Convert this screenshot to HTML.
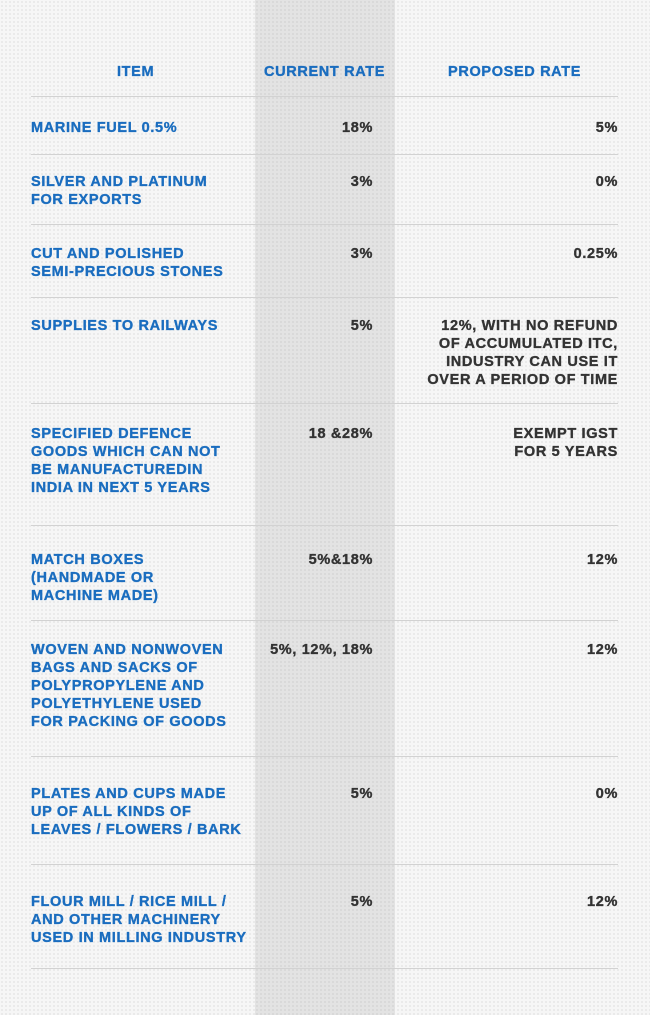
<!DOCTYPE html>
<html><head><meta charset="utf-8"><style>
html,body{margin:0;padding:0}
body{width:650px;height:1015px;position:relative;overflow:hidden;background-color:#f6f6f6;
background-image:radial-gradient(circle,#e6e6e6 0.8px,transparent 1px);background-size:4px 4px;
font-family:"Liberation Sans",Arial,sans-serif;font-weight:bold;font-size:14.5px;letter-spacing:0.65px;line-height:18px;-webkit-text-stroke:0.35px currentColor}
.col{position:absolute;left:255px;top:0;width:140px;height:1015px;background-color:#e3e3e3;
background-image:radial-gradient(circle,#d6d6d6 0.8px,transparent 1px);background-size:4px 4px}
.ln{position:absolute;left:31px;width:587px;height:1px;background:#d2d2d2}
.t{position:absolute;white-space:nowrap}
.b{color:#1a6dbf;left:31px}
.c{color:#333;right:277px;text-align:right}
.p{color:#333;right:32px;text-align:right}
.h{color:#1a6dbf;position:absolute;top:63px}
</style></head><body>
<div class="col"></div>
<div class="h" style="left:117px">ITEM</div>
<div class="h" style="left:264px">CURRENT RATE</div>
<div class="h" style="left:448px">PROPOSED RATE</div>
<div class="ln" style="top:96px"></div>
<div class="ln" style="top:154px"></div>
<div class="ln" style="top:224px"></div>
<div class="ln" style="top:297px"></div>
<div class="ln" style="top:403px"></div>
<div class="ln" style="top:525px"></div>
<div class="ln" style="top:620px"></div>
<div class="ln" style="top:756px"></div>
<div class="ln" style="top:864px"></div>
<div class="ln" style="top:968px"></div>

<div class="t b" style="top:119px">MARINE FUEL 0.5%</div>
<div class="t c" style="top:119px">18%</div>
<div class="t p" style="top:119px">5%</div>

<div class="t b" style="top:173px">SILVER AND PLATINUM<br>FOR EXPORTS</div>
<div class="t c" style="top:173px">3%</div>
<div class="t p" style="top:173px">0%</div>

<div class="t b" style="top:245px">CUT AND POLISHED<br>SEMI-PRECIOUS STONES</div>
<div class="t c" style="top:245px">3%</div>
<div class="t p" style="top:245px">0.25%</div>

<div class="t b" style="top:317px">SUPPLIES TO RAILWAYS</div>
<div class="t c" style="top:317px">5%</div>
<div class="t p" style="top:317px">12%, WITH NO REFUND<br>OF ACCUMULATED ITC,<br>INDUSTRY CAN USE IT<br>OVER A PERIOD OF TIME</div>

<div class="t b" style="top:425px">SPECIFIED DEFENCE<br>GOODS WHICH CAN NOT<br>BE MANUFACTUREDIN<br>INDIA IN NEXT 5 YEARS</div>
<div class="t c" style="top:425px">18 &amp;28%</div>
<div class="t p" style="top:425px">EXEMPT IGST<br>FOR 5 YEARS</div>

<div class="t b" style="top:551px">MATCH BOXES<br>(HANDMADE OR<br>MACHINE MADE)</div>
<div class="t c" style="top:551px">5%&amp;18%</div>
<div class="t p" style="top:551px">12%</div>

<div class="t b" style="top:641px">WOVEN AND NONWOVEN<br>BAGS AND SACKS OF<br>POLYPROPYLENE AND<br>POLYETHYLENE USED<br>FOR PACKING OF GOODS</div>
<div class="t c" style="top:641px">5%, 12%, 18%</div>
<div class="t p" style="top:641px">12%</div>

<div class="t b" style="top:785px">PLATES AND CUPS MADE<br>UP OF ALL KINDS OF<br>LEAVES / FLOWERS / BARK</div>
<div class="t c" style="top:785px">5%</div>
<div class="t p" style="top:785px">0%</div>

<div class="t b" style="top:893px">FLOUR MILL / RICE MILL /<br>AND OTHER MACHINERY<br>USED IN MILLING INDUSTRY</div>
<div class="t c" style="top:893px">5%</div>
<div class="t p" style="top:893px">12%</div>
</body></html>
